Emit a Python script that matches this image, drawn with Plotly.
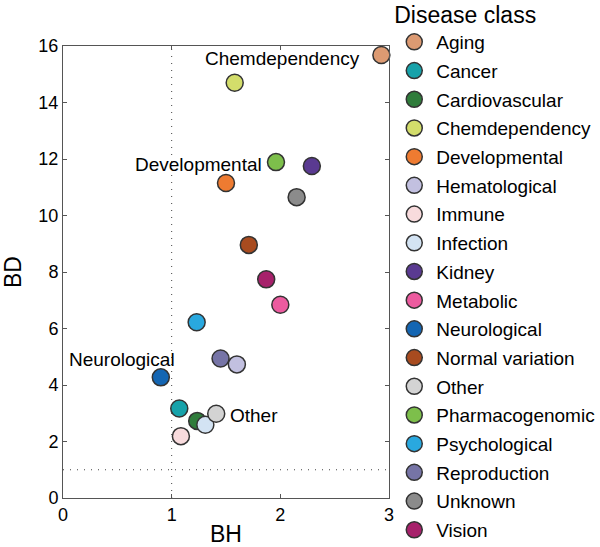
import plotly.graph_objects as go

# disease classes, in legend order
classes = ["Aging", "Cancer", "Cardiovascular", "Chemdependency", "Developmental",
           "Hematological", "Immune", "Infection", "Kidney", "Metabolic",
           "Neurological", "Normal variation", "Other", "Pharmacogenomic",
           "Psychological", "Reproduction", "Unknown", "Vision"]
bh = [2.93, 1.07, 1.235, 1.58, 1.50, 1.60, 1.085, 1.31, 2.29, 2.00,
      0.90, 1.71, 1.41, 1.96, 1.23, 1.45, 2.15, 1.87]
bd = [15.68, 3.17, 2.73, 14.70, 11.15, 4.73, 2.19, 2.59, 11.75, 6.84,
      4.27, 8.96, 2.98, 11.89, 6.22, 4.94, 10.65, 7.74]
colors = ["#DC9A72", "#17A2AA", "#2F7C3B", "#D3DD6B", "#EE7B31", "#C2C0E0",
          "#F8DBDD", "#D3E3F3", "#5A3A91", "#EC5B9F", "#1466B3", "#A84B1F",
          "#D3D3D3", "#7DBF4B", "#29A8DF", "#7674A6", "#8B8B8B", "#A7216B"]

# labelled points: (class, anchor, xshift, yshift)
labels = [("Chemdependency", "center", 48, 24),
          ("Developmental", "right", 38, 19),
          ("Neurological", "right", 16, 18),
          ("Other", "left", 12, -2)]

font = "Liberation Sans, Arial, sans-serif"

fig = go.Figure()
for i, name in enumerate(classes):
    fig.add_trace(go.Scatter(
        x=[bh[i]], y=[bd[i]], mode="markers", name=name, legendgroup=name,
        marker=dict(size=17, color=colors[i], line=dict(color="#333333", width=1.5)),
        cliponaxis=False))

for name, anchor, dx, dy in labels:
    i = classes.index(name)
    fig.add_annotation(x=bh[i], y=bd[i], text=name, showarrow=False,
                       xanchor=anchor, yanchor="middle", xshift=dx, yshift=dy,
                       font=dict(size=19, color="black", family=font))

# dotted reference lines at 1
dots = dict(color="#444444", width=1, dash="1px,6px")
fig.add_shape(type="line", x0=1, x1=1, y0=0, y1=16, xref="x", yref="y",
              line=dots, layer="below")
fig.add_shape(type="line", x0=0, x1=3, y0=1, y1=1, xref="x", yref="y",
              line=dots, layer="below")

axis = dict(showline=True, mirror="ticks", linecolor="#555555", linewidth=1,
            ticks="inside", ticklen=4, tickcolor="#555555", showgrid=False,
            zeroline=False, tickfont=dict(size=18, color="black", family=font))
fig.update_xaxes(range=[0, 3], tickvals=[0, 1, 2, 3], title_text="BH",
                 title_font=dict(size=23, color="black", family=font),
                 title_standoff=8, **axis)
fig.update_yaxes(range=[0, 16], tickvals=list(range(0, 17, 2)), title_text="BD",
                 title_font=dict(size=23, color="black", family=font),
                 title_standoff=10, **axis)

fig.update_layout(
    width=600, height=547,
    margin=dict(l=63, r=211, t=46, b=49, autoexpand=False),
    plot_bgcolor="white", paper_bgcolor="white",
    font=dict(family=font, color="black"),
    showlegend=True,
    legend=dict(title=dict(text="Disease class", font=dict(size=23)),
                font=dict(size=19), x=1.01, xanchor="left", y=1.117, yanchor="top",
                traceorder="grouped", tracegroupgap=1, maxheight=800,
                itemwidth=34, bgcolor="rgba(0,0,0,0)"),
)

# page body has a default 8px margin; drop it so the figure fills the window
fig.write_html("out.html", config={"displayModeBar": False},
               post_script="document.body.style.margin='0';")
